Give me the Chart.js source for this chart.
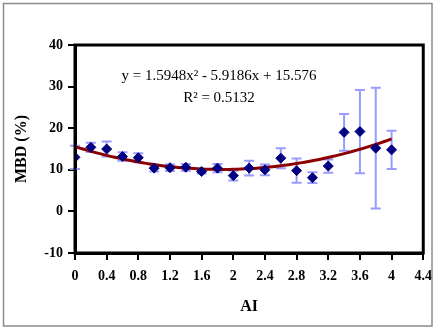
<!DOCTYPE html>
<html>
<head>
<meta charset="utf-8">
<script src="https://cdn.jsdelivr.net/npm/chart.js@4"></script>
<style>
  html, body { margin: 0; padding: 0; background: #fff; }
  #wrap { width: 440px; height: 332px; position: relative; }
</style>
</head>
<body>
<div id="wrap"><canvas id="chart" width="440" height="332"></canvas></div>
<script>
// data
const aiValues = [0, 0.2, 0.4, 0.6, 0.8, 1.0, 1.2, 1.4, 1.6, 1.8, 2.0, 2.2, 2.4, 2.6, 2.8, 3.0, 3.2, 3.4, 3.6, 3.8, 4.0];
const mbdValues = [13.0, 15.4, 15.0, 13.2, 12.9, 10.4, 10.5, 10.6, 9.6, 10.4, 8.6, 10.4, 10.0, 12.8, 9.8, 8.1, 10.9, 19.0, 19.2, 15.2, 14.8];
const mbdErrors = [2.8, 1.1, 1.8, 1.0, 1.1, 0.8, 0.8, 0.8, 0.5, 1.0, 1.2, 1.8, 1.3, 2.4, 2.9, 1.3, 1.6, 4.4, 10.0, 14.5, 4.6];
// trendline y = a x^2 + b x + c, as printed on the chart
const trendCoef = [1.5948, -5.9186, 15.576];
const trendLabels = ['y = 1.5948x\u00B2 - 5.9186x + 15.576', 'R\u00B2 = 0.5132'];

const serif = "'Liberation Serif', 'Times New Roman', serif";

const scatterPts = aiValues.map((x, i) => ({ x: x, y: mbdValues[i] }));
const trendPts = [];
for (let i = 0; i <= 80; i++) {
    const x = i * 0.05;
    trendPts.push({ x: x, y: trendCoef[0] * x * x + trendCoef[1] * x + trendCoef[2] });
}

// error bars, drawn under the markers
const errorBars = {
    id: 'errorBars',
    beforeDatasetsDraw(chart) {
        const ctx = chart.ctx;
        const xs = chart.scales.x, ys = chart.scales.y;
        ctx.save();
        ctx.strokeStyle = '#9a9aff';
        ctx.lineWidth = 2;
        aiValues.forEach((x, i) => {
            const px = xs.getPixelForValue(x);
            const top = ys.getPixelForValue(mbdValues[i] + mbdErrors[i]);
            const bot = ys.getPixelForValue(mbdValues[i] - mbdErrors[i]);
            ctx.beginPath();
            ctx.moveTo(px, top); ctx.lineTo(px, bot);
            ctx.moveTo(px - 5, top); ctx.lineTo(px + 5, top);
            ctx.moveTo(px - 5, bot); ctx.lineTo(px + 5, bot);
            ctx.stroke();
        });
        ctx.restore();
    }
};

// frame, outer border and the equation text
const decorations = {
    id: 'decorations',
    afterDraw(chart) {
        const ctx = chart.ctx;
        const a = chart.chartArea;
        ctx.save();
        ctx.strokeStyle = '#000';
        ctx.lineWidth = 3;
        ctx.strokeRect(a.left, a.top, a.right - a.left, a.bottom - a.top);

        ctx.strokeStyle = '#8c8c8c';
        ctx.lineWidth = 1.5;
        ctx.strokeRect(3.5, 3.5, 428.5, 322.5);

        ctx.fillStyle = '#000';
        ctx.font = '15px ' + serif;
        ctx.textAlign = 'center';
        ctx.textBaseline = 'middle';
        ctx.fillText(trendLabels[0], 219, 76);
        ctx.fillText(trendLabels[1], 219, 98);
        ctx.restore();
    }
};

new Chart(document.getElementById('chart'), {
    type: 'scatter',
    data: {
        datasets: [{
            label: 'MBD',
            data: scatterPts,
            pointStyle: 'rectRot',
            pointRadius: 5,
            pointHoverRadius: 5,
            backgroundColor: '#000080',
            borderColor: '#000080',
            borderWidth: 1
        }, {
            label: 'Trend',
            type: 'line',
            data: trendPts,
            borderColor: '#8b0000',
            borderWidth: 3,
            pointRadius: 0,
            fill: false,
            tension: 0
        }]
    },
    options: {
        responsive: false,
        animation: false,
        plugins: {
            legend: { display: false },
            tooltip: { enabled: false }
        },
        layout: { padding: { top: 45, right: 15, left: 0, bottom: 16 } },
        scales: {
            x: {
                type: 'linear',
                min: 0,
                max: 4.4,
                ticks: {
                    stepSize: 0.4,
                    color: '#000',
                    padding: 8,
                    maxRotation: 0,
                    font: { family: serif, size: 14, weight: 'bold' },
                    callback: (v) => String(Math.round(v * 10) / 10)
                },
                grid: { drawOnChartArea: false, color: '#000', lineWidth: 2, tickLength: 7 },
                border: { color: '#000', width: 3 },
                title: {
                    display: true,
                    text: 'AI',
                    color: '#000',
                    font: { family: serif, size: 16, weight: 'bold' },
                    padding: { top: 4, bottom: 0 }
                },
                afterFit(scale) { scale.height = 63; }
            },
            y: {
                min: -10,
                max: 40,
                ticks: {
                    stepSize: 10,
                    color: '#000',
                    padding: 5,
                    font: { family: serif, size: 14, weight: 'bold' }
                },
                grid: { drawOnChartArea: false, color: '#000', lineWidth: 2, tickLength: 7 },
                border: { color: '#000', width: 3 },
                title: {
                    display: true,
                    text: 'MBD (%)',
                    color: '#000',
                    font: { family: serif, size: 16, weight: 'bold' },
                    padding: { top: 12, bottom: 4 }
                },
                afterFit(scale) { scale.width = 75; }
            }
        }
    },
    plugins: [errorBars, decorations]
});
</script>
</body>
</html>
